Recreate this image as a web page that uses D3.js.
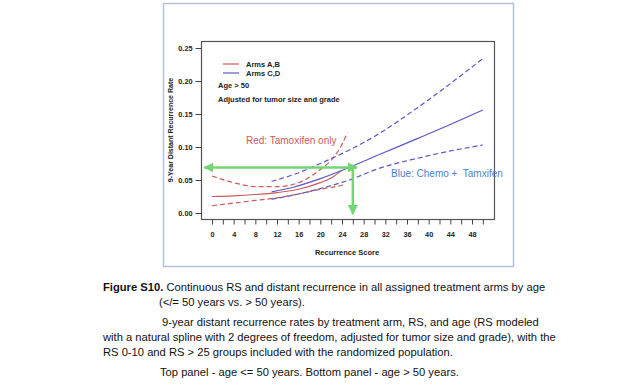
<!DOCTYPE html>
<html lang="en">
<head>
<meta charset="utf-8">
<title>Figure S10</title>
<script src="https://cdn.jsdelivr.net/npm/d3@7"></script>
<style>
body { margin: 0; background: #fff; }
svg text { font-family: "Liberation Sans", Arial, sans-serif; white-space: pre; }
.ax text { font-size: 7.3px; font-weight: bold; fill: #222; }
.ax path, .ax line { stroke: #444; }
</style>
</head>
<body>
<script>
// red = Arms A,B (tamoxifen only), blue = Arms C,D (chemo + tamoxifen)
var redFitX   = [0, 4, 8, 12, 16, 20, 22, 24]
var redFit    = [0.025, 0.026, 0.028, 0.031, 0.036, 0.046, 0.053, 0.065]
var redUpX    = [0, 4, 8, 12, 16, 20, 22, 24, 25]
var redUp     = [0.056, 0.046, 0.040, 0.040, 0.046, 0.066, 0.080, 0.104, 0.122]
var redLoX    = [0, 4, 8, 12, 16, 20, 24, 24.5]
var redLo     = [0.011, 0.015, 0.019, 0.023, 0.029, 0.036, 0.042, 0.043]
var blueX     = [11, 15, 20, 25, 31, 38, 44, 50]
var blueFit   = [0.032, 0.039, 0.052, 0.068, 0.089, 0.113, 0.134, 0.156]
var blueUp    = [0.048, 0.058, 0.075, 0.094, 0.121, 0.160, 0.196, 0.234]
var blueLo    = [0.021, 0.027, 0.037, 0.049, 0.068, 0.083, 0.094, 0.103]
var xTicks    = d3.range(0, 51, 2)
var xLabels   = d3.range(0, 49, 4)
var yTicks    = [0, 0.05, 0.10, 0.15, 0.20, 0.25]
var markRS    = 26
var markRate  = 0.069

var W = 640, H = 389
var svg = d3.select("body").append("svg").attr("width", W).attr("height", H)

// outer panel box
svg.append("rect").attr("x", 163.5).attr("y", 3.5).attr("width", 350).attr("height", 263)
   .attr("fill", "none").attr("stroke", "#b3c1dc").attr("stroke-width", 1.5)

var x = d3.scaleLinear().domain([0, 48]).range([212, 472])
var y = d3.scaleLinear().domain([0, 0.25]).range([213, 48])

// plot frame
svg.append("rect").attr("x", 201.5).attr("y", 41.5).attr("width", 293).attr("height", 178)
   .attr("fill", "none").attr("stroke", "#555").attr("stroke-width", 1.2)

svg.append("g").attr("class", "ax").attr("transform", "translate(0,219.5)")
   .call(d3.axisBottom(x).tickValues(xTicks).tickSize(5).tickPadding(7)
         .tickFormat(function(d){ return xLabels.indexOf(d) >= 0 ? d : "" }))
   .call(function(g){ g.select(".domain").remove() })

svg.append("g").attr("class", "ax").attr("transform", "translate(201.5,0)")
   .call(d3.axisLeft(y).tickValues(yTicks).tickSize(6).tickPadding(3).tickFormat(d3.format(".2f")))
   .call(function(g){ g.select(".domain").remove() })

svg.append("text").attr("x", 347).attr("y", 255).attr("text-anchor", "middle")
   .attr("font-size", 7.5).attr("font-weight", "bold").attr("fill", "#222").text("Recurrence Score")
svg.append("text").attr("transform", "translate(173,130) rotate(-90)").attr("text-anchor", "middle")
   .attr("font-size", 7).attr("font-weight", "bold").attr("fill", "#222").text("9-Year Distant Recurrence Rate")

var red = "#cc5a5c", blue = "#5a58c6"
function curve(xs, ys, col, dash){
	var pts = xs.map(function(v, i){ return [v, ys[i]] })
	svg.append("path").datum(pts)
	   .attr("d", d3.line().x(function(d){ return x(d[0]) }).y(function(d){ return y(d[1]) }).curve(d3.curveMonotoneX))
	   .attr("fill", "none").attr("stroke", col).attr("stroke-width", 1.2)
	   .attr("stroke-dasharray", dash ? "5,3" : null)
}
curve(redFitX, redFit, red, false)
curve(redUpX, redUp, red, true)
curve(redLoX, redLo, red, true)
curve(blueX, blueFit, blue, false)
curve(blueX, blueUp, blue, true)
curve(blueX, blueLo, blue, true)

// legend
var leg = [["Arms A,B", red], ["Arms C,D", blue]]
leg.forEach(function(l, i){
	svg.append("line").attr("x1", 223).attr("x2", 239).attr("y1", 64 + i * 9).attr("y2", 64 + i * 9)
	   .attr("stroke", l[1]).attr("stroke-width", 1.2)
	svg.append("text").attr("x", 246).attr("y", 66.5 + i * 9).attr("font-size", 7.5)
	   .attr("font-weight", "bold").attr("fill", "#222").text(l[0])
})
svg.append("text").attr("x", 218).attr("y", 88).attr("font-size", 7.5).attr("font-weight", "bold")
   .attr("fill", "#222").text("Age > 50")
svg.append("text").attr("x", 218).attr("y", 102).attr("font-size", 7.5).attr("font-weight", "bold")
   .attr("fill", "#222").text("Adjusted for tumor size and grade")

svg.append("text").attr("x", 246).attr("y", 144).attr("font-size", 10).attr("fill", "#cf5a5a").text("Red: Tamoxifen only")
svg.append("text").attr("x", 391).attr("y", 177).attr("font-size", 10).attr("fill", "#4d7fca").text("Blue: Chemo +  Tamxifen")

// green arrows
var green = "#72d672"
var defs = svg.append("defs")
defs.append("marker").attr("id", "ah").attr("viewBox", "0 0 10 10").attr("refX", 9).attr("refY", 5)
    .attr("markerWidth", 4).attr("markerHeight", 4).attr("orient", "auto-start-reverse")
    .append("path").attr("d", "M0,0L10,5L0,10Z").attr("fill", green)
svg.append("line").attr("x1", x(-1.4)).attr("x2", x(markRS) + 4).attr("y1", y(markRate)).attr("y2", y(markRate))
   .attr("stroke", green).attr("stroke-width", 2.5)
   .attr("marker-start", "url(#ah)").attr("marker-end", "url(#ah)")
svg.append("line").attr("x1", x(markRS)).attr("x2", x(markRS)).attr("y1", y(markRate)).attr("y2", y(0) + 1)
   .attr("stroke", green).attr("stroke-width", 2.5).attr("marker-end", "url(#ah)")

// caption
var cap = svg.append("g").attr("font-size", 11.2).attr("fill", "#111")
var t1 = cap.append("text").attr("x", 103).attr("y", 291)
t1.append("tspan").attr("font-weight", "bold").text("Figure S10.")
t1.append("tspan").text(" Continuous RS and distant recurrence in all assigned treatment arms by age")
cap.append("text").attr("x", 159).attr("y", 306).text("(</= 50 years vs. > 50 years).")
cap.append("text").attr("x", 162).attr("y", 326).text("9-year distant recurrence rates by treatment arm, RS, and age (RS modeled")
cap.append("text").attr("x", 103).attr("y", 341).text("with a natural spline with 2 degrees of freedom, adjusted for tumor size and grade), with the")
cap.append("text").attr("x", 103).attr("y", 356).text("RS 0-10 and RS > 25 groups included with the randomized population.")
cap.append("text").attr("x", 160).attr("y", 376).text("Top panel - age <= 50 years. Bottom panel - age > 50 years.")
</script>
</body>
</html>
